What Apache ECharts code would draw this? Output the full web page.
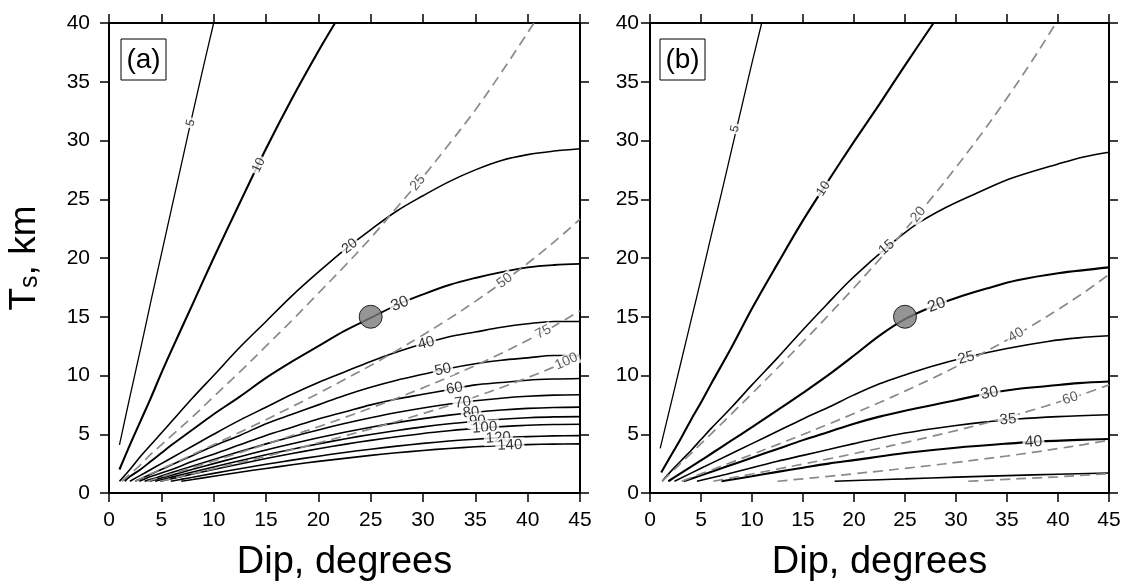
<!DOCTYPE html>
<html><head><meta charset="utf-8">
<script src="https://cdn.jsdelivr.net/npm/echarts/dist/echarts.min.js"></script>
<style>html,body{margin:0;padding:0;background:#fff}#c{width:1135px;height:587px}</style>
</head><body><div id="c"></div><script>
// ---------- DATA ----------
// Panel (a) solid contours: [dip, Ts]
const aS5 = [[1,4.1],[2,8.2],[3,12.2],[4,16.3],[5,20.3],[6,24.3],[7,28.3],[8,32.3],[9,36.2],[10,40]];
const aS10 = [[1,2.0],[2,4.1],[3,6.1],[4,8.1],[5,10.2],[6,12.2],[8,16.1],[10,20.0],[12.5,24.7],[15,29.3],[17.5,33.6],[20,37.6],[21.6,40]];
const aS20 = [[1,1.0],[2,2.0],[3,3.1],[4,4.1],[5,5.1],[6,6.1],[8,8.1],[10,10.0],[12.5,12.4],[15,14.6],[17.5,16.8],[20,18.8],[22.5,20.7],[25,22.4],[27.5,24.0],[30,25.3],[32.5,26.5],[35,27.5],[37.5,28.3],[40,28.8],[42.5,29.1],[45,29.3]];
const aS30 = [[1.5,1.0],[2,1.4],[3,2.0],[4,2.7],[5,3.4],[6,4.1],[8,5.4],[10,6.7],[12.5,8.2],[15,9.8],[17.5,11.2],[20,12.5],[22.5,13.8],[25,14.9],[27.5,16.0],[30,16.9],[32.5,17.7],[35,18.3],[37.5,18.8],[40,19.2],[42.5,19.4],[45,19.5]];
const aS40 = [[2,1.0],[3,1.5],[4,2.0],[5,2.5],[6,3.0],[8,4.0],[10,5.0],[12.5,6.2],[15,7.3],[17.5,8.4],[20,9.4],[22.5,10.3],[25,11.2],[27.5,12.0],[30,12.7],[32.5,13.3],[35,13.7],[37.5,14.1],[40,14.4],[42.5,14.6],[45,14.6]];
const aS50 = [[2.5,1.0],[3,1.2],[4,1.6],[5,2.0],[6,2.4],[8,3.2],[10,4.0],[12.5,4.9],[15,5.9],[17.5,6.7],[20,7.5],[22.5,8.3],[25,9.0],[27.5,9.6],[30,10.1],[32.5,10.6],[35,11.0],[37.5,11.3],[40,11.5],[42.5,11.7],[45,11.7]];
const aS60 = [[2.9,1.0],[4,1.4],[5,1.7],[6,2.0],[8,2.7],[10,3.3],[12.5,4.1],[15,4.9],[17.5,5.6],[20,6.3],[22.5,6.9],[25,7.5],[27.5,8.0],[30,8.4],[32.5,8.8],[35,9.2],[37.5,9.4],[40,9.6],[42.5,9.7],[45,9.75]];
const aS70 = [[3.4,1.0],[4,1.16],[5,1.45],[6,1.74],[8,2.3],[10,2.86],[12.5,3.53],[15,4.18],[17.5,4.79],[20,5.37],[22.5,5.91],[25,6.4],[27.5,6.85],[30,7.24],[32.5,7.57],[35,7.85],[37.5,8.07],[40,8.23],[42.5,8.33],[45,8.36]];
const aS80 = [[3.9,1.0],[5,1.27],[6,1.52],[8,2.02],[10,2.5],[12.5,3.09],[15,3.66],[17.5,4.19],[20,4.7],[22.5,5.17],[25,5.6],[27.5,5.99],[30,6.33],[32.5,6.63],[35,6.87],[37.5,7.06],[40,7.2],[42.5,7.28],[45,7.31]];
const aS90 = [[4.4,1.0],[5,1.13],[6,1.35],[8,1.79],[10,2.22],[12.5,2.75],[15,3.25],[17.5,3.73],[20,4.18],[22.5,4.6],[25,4.98],[27.5,5.32],[30,5.63],[32.5,5.89],[35,6.11],[37.5,6.28],[40,6.4],[42.5,6.48],[45,6.5]];
const aS100 = [[4.9,1.0],[6,1.22],[8,1.61],[10,2.0],[12.5,2.47],[15,2.93],[17.5,3.36],[20,3.76],[22.5,4.14],[25,4.48],[27.5,4.79],[30,5.07],[32.5,5.3],[35,5.5],[37.5,5.65],[40,5.76],[42.5,5.83],[45,5.85]];
const aS120 = [[5.9,1.0],[7,1.18],[8,1.34],[10,1.67],[12.5,2.06],[15,2.44],[17.5,2.8],[20,3.13],[22.5,3.45],[25,3.73],[27.5,3.99],[30,4.22],[32.5,4.42],[35,4.58],[37.5,4.71],[40,4.8],[42.5,4.86],[45,4.88]];
const aS140 = [[6.9,1.0],[8,1.15],[10,1.43],[12.5,1.77],[15,2.09],[17.5,2.4],[20,2.69],[22.5,2.95],[25,3.2],[27.5,3.42],[30,3.62],[32.5,3.79],[35,3.93],[37.5,4.04],[40,4.12],[42.5,4.16],[45,4.18]];
// Panel (a) dashed lines
const aD25 = [[1.2,1.0],[2,1.6],[3,2.4],[4,3.3],[5,4.1],[6,4.9],[8,6.5],[10,8.2],[12.5,10.3],[15,12.5],[17.5,14.7],[20,17.0],[22.5,19.3],[25,21.7],[27.5,24.3],[30,26.9],[32.5,29.7],[35,32.6],[37.5,35.8],[40.6,40]];
const aD50 = [[2.5,1.0],[3,1.22],[4,1.63],[5,2.04],[6,2.45],[8,3.27],[10,4.11],[12.5,5.17],[15,6.24],[17.5,7.35],[20,8.48],[22.5,9.65],[25,10.86],[27.5,12.13],[30,13.45],[32.5,14.84],[35,16.31],[37.5,17.88],[40,19.55],[42.5,21.35],[45,23.3]];
const aD75 = [[3.7,1.0],[4,1.08],[5,1.36],[6,1.63],[8,2.18],[10,2.73],[12.5,3.44],[15,4.15],[17.5,4.89],[20,5.64],[22.5,6.42],[25,7.23],[27.5,8.07],[30,8.95],[32.5,9.88],[35,10.85],[37.5,11.89],[40,13.01],[42.5,14.2],[45,15.5]];
const aD100 = [[4.9,1.0],[6,1.23],[8,1.64],[10,2.06],[12.5,2.59],[15,3.13],[17.5,3.69],[20,4.26],[22.5,4.85],[25,5.46],[27.5,6.09],[30,6.76],[32.5,7.45],[35,8.19],[37.5,8.98],[40,9.82],[42.5,10.72],[45,11.7]];
// Panel (b) solid contours
const bS5 = [[1,3.8],[2,7.4],[3,11.0],[4,14.6],[5,18.2],[6,21.9],[7,25.5],[8,29.2],[9,32.9],[10,36.6],[10.95,40]];
const bS10 = [[1.1,1.75],[2,3.1],[3,4.6],[4,6.2],[5,7.7],[6,9.3],[8,12.4],[10,15.7],[12.5,19.5],[15,23.2],[17.5,26.6],[20,29.9],[22.5,33.1],[25,36.4],[27.8,40]];
const bS15 = [[1.2,1.0],[2,1.8],[3,2.7],[4,3.6],[5,4.55],[6,5.5],[8,7.3],[10,9.2],[12.5,11.5],[15,13.9],[17.5,16.2],[19.5,18.0],[21.5,19.6],[23.5,21.1],[26,22.8],[29,24.3],[32.5,25.7],[35.5,26.8],[40,28.0],[42.5,28.6],[45,29.0]];
const bS20 = [[1.8,1.0],[3,1.67],[4,2.22],[5,2.78],[6,3.34],[8,4.47],[10,5.61],[12.5,7.05],[15,8.52],[17.5,10.05],[20,11.7],[22.5,13.4],[25,14.8],[27.5,15.8],[30,16.6],[33,17.4],[36,18.1],[40,18.7],[45,19.2]];
const bS25 = [[2.4,1.0],[5,2.1],[7.5,3.15],[10,4.2],[12.5,5.25],[15,6.3],[17.5,7.3],[20,8.35],[22.5,9.3],[25,10.05],[27.5,10.75],[31,11.55],[35,12.3],[39,12.9],[42,13.2],[45,13.38]];
const bS30 = [[3.3,1.0],[5,1.5],[7.5,2.25],[10,3.0],[12.5,3.75],[15,4.5],[17.5,5.2],[20,5.9],[22.5,6.5],[25,7.0],[27.5,7.45],[30,7.9],[33.3,8.5],[36,8.85],[39,9.1],[42,9.35],[45,9.49]];
const bS35 = [[4.6,1.0],[7.5,1.6],[10,2.15],[12.5,2.7],[15,3.2],[17.5,3.7],[20,4.2],[22.5,4.68],[25,5.1],[27.5,5.45],[30,5.75],[33,6.05],[36,6.3],[40,6.5],[45,6.66]];
const bS40 = [[7,1.0],[10,1.42],[12.5,1.8],[15,2.15],[17.5,2.5],[20,2.8],[22.5,3.1],[25,3.4],[30,3.85],[35,4.2],[38,4.37],[42,4.52],[45,4.6]];
const bS45 = [[18.1,1.0],[22.5,1.13],[25,1.2],[30,1.35],[35,1.48],[40,1.6],[45,1.7]];
// Panel (b) dashed lines
const bD20 = [[1.2,1.0],[2,1.68],[3,2.52],[4,3.36],[5,4.2],[6,5.04],[8,6.74],[10,8.46],[12.5,10.64],[15,12.86],[17.5,15.13],[20,17.47],[22.5,19.88],[25,22.38],[27.5,24.99],[30,27.72],[32.5,30.58],[35,33.61],[37.5,36.83],[39.8,40]];
const bD40 = [[3.1,1.0],[4,1.3],[5,1.63],[6,1.95],[8,2.61],[10,3.28],[12.5,4.12],[15,4.98],[17.5,5.86],[20,6.77],[22.5,7.7],[25,8.67],[27.5,9.68],[30,10.74],[32.5,11.85],[35,13.02],[37.5,14.27],[40,15.61],[42.5,17.04],[45,18.6]];
const bD60 = [[6.2,1.0],[8,1.29],[10,1.62],[12.5,2.04],[15,2.46],[17.5,2.9],[20,3.35],[22.5,3.81],[25,4.29],[27.5,4.79],[30,5.31],[32.5,5.86],[35,6.44],[37.5,7.06],[40,7.72],[42.5,8.43],[45,9.2]];
const bD80 = [[12.5,1.0],[15,1.21],[17.5,1.42],[20,1.64],[22.5,1.86],[25,2.1],[27.5,2.34],[30,2.6],[32.5,2.87],[35,3.15],[37.5,3.45],[40,3.78],[42.5,4.12],[45,4.5]];
const bD100 = [[31.2,1.0],[32.5,1.05],[35,1.16],[37.5,1.27],[40,1.38],[42.5,1.51],[45,1.65]];
// Reference point
const refPoint = [25, 15];
// Contour labels: [text, dip, Ts, curve]
const aLabels = [['5',7.8,31.5,'aS5'],['10',14.3,27.9,'aS10'],['20',23.0,21.0,'aS20'],['30',27.8,16.1,'aS30'],['40',30.3,12.75,'aS40'],['50',31.9,10.5,'aS50'],['60',33.0,8.9,'aS60'],['70',33.8,7.7,'aS70'],['80',34.6,6.85,'aS80'],['90',35.2,6.12,'aS90'],['100',35.9,5.56,'aS100'],['120',37.2,4.69,'aS120'],['140',38.3,4.07,'aS140'],['25',29.5,26.4,'aD25'],['50',37.8,18.07,'aD50'],['75',41.5,13.7,'aD75'],['100',43.7,11.2,'aD100']];
const bLabels = [['5',8.33,31.0,'bS5'],['10',17.0,25.9,'bS10'],['15',23.2,20.9,'bS15'],['20',28.1,16.0,'bS20'],['25',31.0,11.5,'bS25'],['30',33.3,8.5,'bS30'],['35',35.1,6.25,'bS35'],['40',37.6,4.33,'bS40'],['20',26.3,23.7,'bD20'],['40',35.9,13.45,'bD40'],['60',41.2,8.06,'bD60']];

// ---------- STYLES ----------
const curves = {aS5,aS10,aS20,aS30,aS40,aS50,aS60,aS70,aS80,aS90,aS100,aS120,aS140,aD25,aD50,aD75,aD100,
  bS5,bS10,bS15,bS20,bS25,bS30,bS35,bS40,bS45,bD20,bD40,bD60,bD80,bD100};
const thick = {aS10:2.1,aS30:1.9,bS10:2.1,bS20:2.1,bS30:2.1,bS40:2.1,aS5:1.3,bS5:1.3};
const FONT = "'Liberation Sans', Arial, Helvetica, sans-serif";
const labelSize = {a:{'5':12,'10':13,'20':14,'30':16}, b:{'5':12,'10':13,'15':14,'20':16,'30':16,'40':16}};

const el = document.getElementById('c');
const chart = echarts.init(el, null, {renderer:'canvas'});

function xAx(gi, pos, showName){
  return {type:'value', gridIndex:gi, position:pos, min:0, max:45, interval:5,
    axisLine:{onZero:false, lineStyle:{color:'#000', width:2}},
    axisTick:{show:true, inside:false, length:9, lineStyle:{color:'#000', width:1.5}},
    axisLabel:{show:pos==='bottom', fontSize:21, color:'#000', margin:17, fontFamily:FONT},
    splitLine:{show:false},
    name: showName ? 'Dip, degrees' : '', nameLocation:'middle', nameGap:51,
    nameTextStyle:{fontSize:38, color:'#000', fontFamily:FONT}};
}
function yAx(gi, pos, margin, name){
  return {type:'value', gridIndex:gi, position:pos, min:0, max:40, interval:5,
    axisLine:{onZero:false, lineStyle:{color:'#000', width:2}},
    axisTick:{show:true, inside:false, length:9, lineStyle:{color:'#000', width:1.5}},
    axisLabel:{show:pos==='left', fontSize:21, color:'#000', margin:margin, fontFamily:FONT},
    splitLine:{show:false},
    name: name || '', nameLocation:'middle', nameGap:66, nameRotate:90,
    nameTextStyle:{fontSize:37, color:'#000', fontFamily:FONT,
      rich:{t:{fontSize:37, fontFamily:FONT, color:'#000'}, s:{fontSize:25, fontFamily:FONT, color:'#000', lineHeight:16, verticalAlign:'bottom'}}}};
}

const series = [];
Object.keys(curves).forEach(k => {
  const gi = k[0]==='a' ? 0 : 1;
  const dashed = k[1]==='D';
  series.push({type:'line', name:k, xAxisIndex:gi*2, yAxisIndex:gi*2, data:curves[k],
    smooth:0.35, showSymbol:false, silent:true, z:2, animation:false,
    lineStyle: dashed ? {color:'#8a8a8a', width:1.7, type:[10,6]} : {color:'#000', width: thick[k] || 1.6}});
});
[0,1].forEach(gi => series.push({type:'scatter', xAxisIndex:gi*2, yAxisIndex:gi*2, data:[refPoint],
  symbolSize:23, z:10, animation:false, itemStyle:{color:'#7a7a7a', borderColor:'#000', borderWidth:1}}));

const option = {
  animation:false,
  grid:[{left:109, top:23, width:471, height:470},{left:650, top:23, width:459, height:470}],
  xAxis:[xAx(0,'bottom',true), xAx(0,'top',false), xAx(1,'bottom',true), xAx(1,'top',false)],
  yAxis:[yAx(0,'left',19,'{t|T}{s|s}{t|, km}'), yAx(0,'right',19), yAx(1,'left',11), yAx(1,'right',11)],
  series: series,
  graphic:[
    {type:'rect', shape:{x:121, y:39, width:45, height:41}, style:{fill:'#fff', stroke:'#000', lineWidth:1}, z:20},
    {type:'text', x:143.5, y:60, style:{text:'(a)', fontSize:28, fontFamily:FONT, fill:'#000', textAlign:'center', textVerticalAlign:'middle'}, z:21},
    {type:'rect', shape:{x:660, y:39, width:45, height:41}, style:{fill:'#fff', stroke:'#000', lineWidth:1}, z:20},
    {type:'text', x:682.5, y:60, style:{text:'(b)', fontSize:28, fontFamily:FONT, fill:'#000', textAlign:'center', textVerticalAlign:'middle'}, z:21}
  ]
};
chart.setOption(option);

// contour labels rotated along their curves (angle from the library's own pixel mapping)
function labelSeries(list, gi, panel){
  const data = list.map(([txt, d, t, ck]) => {
    const pts = curves[ck];
    let i = 0;
    while (i < pts.length-2 && pts[i+1][0] < d) i++;
    const p1 = chart.convertToPixel({gridIndex:gi}, pts[i]);
    const p2 = chart.convertToPixel({gridIndex:gi}, pts[i+1]);
    const ang = Math.atan2(-(p2[1]-p1[1]), p2[0]-p1[0]) * 180/Math.PI;
    const dashed = ck[1]==='D';
    const fs = dashed ? 14 : (labelSize[panel][txt] || 15);
    return {value:[d,t], label:{show:true, formatter:txt, rotate:ang, position:'inside',
      fontSize:fs, fontFamily:FONT, color: dashed ? '#333' : '#000',
      backgroundColor:'#fff', padding:[0,2,0,2], lineHeight:fs}};
  });
  return {type:'scatter', xAxisIndex:gi*2, yAxisIndex:gi*2, data, symbolSize:0, z:6, animation:false, silent:true};
}
chart.setOption({series: series.concat([labelSeries(aLabels,0,'a'), labelSeries(bLabels,1,'b')])});
</script></body></html>
